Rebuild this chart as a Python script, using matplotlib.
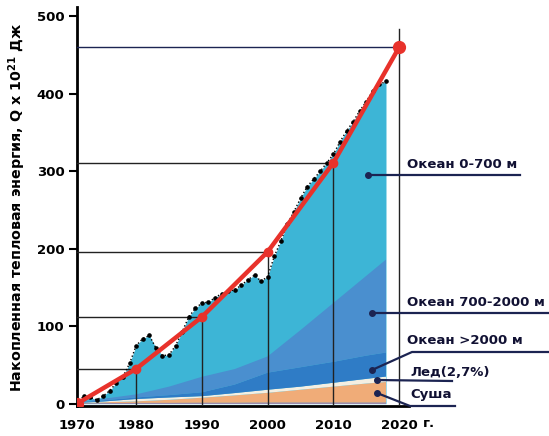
import matplotlib.pyplot as plt
from matplotlib.lines import Line2D

# Data
years = list(range(1971, 2019))
total = [0, 10, 8, 5, 10, 17, 27, 35, 52, 75,
         84, 88, 72, 62, 63, 75, 93, 112, 123, 130,
         131, 137, 142, 145, 147, 153, 160, 166, 158, 164,
         190, 210, 232, 248, 265, 280, 290, 300, 311, 322,
         338, 352, 364, 378, 390, 404, 412, 416]

layer_years = [1971, 1975, 1980, 1985, 1990, 1995, 2000, 2005, 2010, 2015, 2018]
atmosphere = [0.5, 0.8, 1, 1, 1.2, 1.2, 1.5, 1.5, 1.5, 1.5, 1.5]
land = [0.3, 1, 2, 4, 6.5, 9.5, 12.5, 16.5, 20.5, 24.5, 26.5]
ice = [0.2, 1, 3, 3, 2, 3, 4, 4, 5, 6, 7]
ocean_deep = [0.3, 1.5, 2, 3, 5, 11, 22, 25, 27, 30, 31]
ocean_mid = [0, 2, 4, 11, 20, 20, 21, 48, 76, 103, 120]

trend_years = [1971, 1980, 1990, 2000, 2010, 2020]
trend_vals = [0, 45, 112, 196, 311, 460]

x_ticks = [1971, 1980, 1990, 2000, 2010, 2020]
x_labels = ["1970", "1980", "1990", "2000", "2010", "2020"]
y_ticks = [0, 100, 200, 300, 400, 500]

# Colours
c_upper = '#3db5d6'
c_mid = '#4a8fcf'
c_deep = '#2f7cc6'
c_ice = '#f4efe2'
c_land = '#f0ac78'
c_atm = '#c9789a'
c_red = '#e8322b'
c_navy = '#1c2452'

W, H = 549, 436
fig = plt.figure(figsize=(W / 100, H / 100), dpi=100)
ax = fig.add_axes([77 / W, 30 / H, 332 / W, 399 / H])
ax.set_xlim(1971, 2021.5)
ax.set_ylim(-3, 512)

# Stacked energy content
ax.fill_between(years, 0, total, color=c_upper, lw=0, zorder=1)
ax.stackplot(layer_years, atmosphere, land, ice, ocean_deep, ocean_mid,
             colors=[c_atm, c_land, c_ice, c_deep, c_mid], lw=0, zorder=2)
ax.plot(years, total, ls=':', color='k', lw=1, marker='o', ms=2.3, zorder=4)

# Reference grid lines to the trend points
for yr, v in zip(trend_years[1:], trend_vals[1:]):
    top = 483 if yr == 2020 else v
    lc = c_navy if yr == 2020 else '#222222'
    ax.plot([yr, yr], [-3, top], color='#222222', lw=1, zorder=3)
    ax.plot([1971, yr], [v, v], color=lc, lw=1, zorder=3)

# Trend line
ax.plot(trend_years, trend_vals, color=c_red, lw=3.2, zorder=5,
        marker='o', ms=6, solid_capstyle='round')
ax.plot([trend_years[0], trend_years[-1]], [trend_vals[0], trend_vals[-1]],
        ls='none', marker='o', ms=8.5, color=c_red, zorder=6)

# Axes styling
for s in ['top', 'right']:
    ax.spines[s].set_visible(False)
ax.spines['left'].set_linewidth(2)
ax.spines['bottom'].set_linewidth(2)
ax.set_xticks(x_ticks)
ax.set_xticklabels(x_labels)
ax.set_yticks(y_ticks)
ax.tick_params(axis='x', length=0, pad=9)
ax.tick_params(axis='y', length=6, width=1.5, pad=3)
for lab in ax.get_xticklabels() + ax.get_yticklabels():
    lab.set_fontweight('bold')
    lab.set_fontsize(9.5)
ax.text(2023.6, -0.045, "г.", transform=ax.get_xaxis_transform(),
        fontsize=9.5, fontweight='bold', ha='left', va='center')

fig.text(17 / W, 1 - 207 / H,
         "Накопленная тепловая энергия, Q x 10$^{\\mathbf{21}}$ Дж",
         rotation=90, ha='center', va='center', fontsize=10.3, fontweight='bold')

# Legend labels with leader lines
def fx(x):
    return x / W

def fy(y):
    return 1 - y / H

labels = [
    ("Океан 0-700 м", (407, 165), [(368, 175), (520, 175)]),
    ("Океан 700-2000 м", (407, 302), [(372, 313), (549, 313)]),
    ("Океан >2000 м", (407, 340), [(372, 370), (412, 352), (549, 352)]),
    ("Лед(2,7%)", (410, 372), [(377, 380), (452, 381)]),
    ("Суша", (410, 394), [(377, 393), (410, 406), (455, 406)]),
]
for text, (tx, ty), pts in labels:
    fig.text(fx(tx), fy(ty), text, ha='left', va='center',
             fontsize=9.5, fontweight='bold', color='#111133')
    xs = [fx(p[0]) for p in pts]
    ys = [fy(p[1]) for p in pts]
    fig.add_artist(Line2D(xs, ys, color=c_navy, lw=1.6,
                          transform=fig.transFigure, zorder=10))
    fig.add_artist(Line2D([xs[0]], [ys[0]], marker='o', ms=4, color=c_navy,
                          transform=fig.transFigure, zorder=11))

fig.savefig('out.png', dpi=100)
